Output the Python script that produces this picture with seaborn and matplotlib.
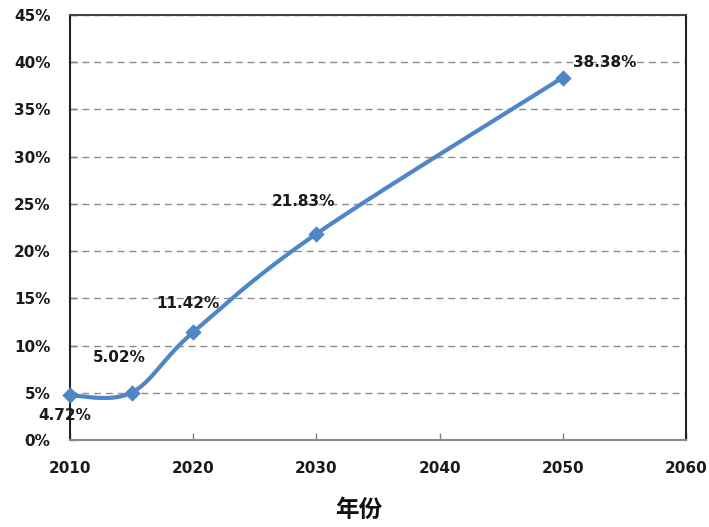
import numpy as np
import pandas as pd
import matplotlib
matplotlib.use("Agg")
import matplotlib.pyplot as plt
import seaborn as sns
from matplotlib.ticker import FuncFormatter, MultipleLocator

years = [2010, 2015, 2020, 2030, 2050]
shares = [4.72, 5.02, 11.42, 21.83, 38.38]
value_labels = ["4.72%", "5.02%", "11.42%", "21.83%", "38.38%"]
label_offsets = [(-5, -20), (-12, 35), (-5, 29), (-13, 32), (42, 15)]

sns.set_style("ticks")
plt.rcParams["font.family"] = ["DejaVu Sans", "Noto Sans CJK SC"]

line_color = "#4F86C6"


def smooth_curve(xs, ys, n=60):
    """Bezier smoothing through every point (Catmull-Rom style control points)."""
    pts = np.column_stack([xs, ys]).astype(float)
    ext = np.vstack([pts[0], pts, pts[-1]])
    out = []
    t = np.linspace(0, 1, n)[:, None]
    for i in range(len(pts) - 1):
        p0, p1, p2, p3 = ext[i], ext[i + 1], ext[i + 2], ext[i + 3]
        b1 = p1 + (p2 - p0) / 6.0
        b2 = p2 - (p3 - p1) / 6.0
        seg = ((1 - t) ** 3) * p1 + 3 * ((1 - t) ** 2) * t * b1 + 3 * (1 - t) * t ** 2 * b2 + t ** 3 * p2
        out.append(seg if i == 0 else seg[1:])
    curve = np.vstack(out)
    return curve[:, 0], curve[:, 1]


cx, cy = smooth_curve(years, shares)
curve_df = pd.DataFrame({"year": cx, "share": cy})
point_df = pd.DataFrame({"year": years, "share": shares})

fig = plt.figure(figsize=(7.09, 5.27), dpi=100)
ax = fig.add_axes([70 / 709, 1 - 440 / 527, 616 / 709, 425 / 527])

sns.lineplot(data=curve_df, x="year", y="share", sort=False, color=line_color,
             linewidth=3.0, ax=ax, zorder=3, clip_on=False)
sns.scatterplot(data=point_df, x="year", y="share", marker="D", s=70,
                color=line_color, edgecolor=line_color, linewidth=0, ax=ax,
                zorder=4, clip_on=False)

for x, y, lab, (dx, dy) in zip(years, shares, value_labels, label_offsets):
    ax.annotate(lab, (x, y), xytext=(dx * 0.72, dy * 0.72), textcoords="offset points",
                ha="center", va="center", fontsize=11, fontweight="bold",
                color="#1a1a1a", zorder=5)

ax.set_xlim(2010, 2060)
ax.set_ylim(0, 45)
ax.xaxis.set_major_locator(MultipleLocator(10))
ax.yaxis.set_major_locator(MultipleLocator(5))
ax.yaxis.set_major_formatter(FuncFormatter(lambda v, p: f"{v:.0f}%"))

ax.grid(axis="y", linestyle=(0, (5, 3.5)), color="#8c8c8c", linewidth=1.0, zorder=1)
ax.set_axisbelow(True)

ax.tick_params(axis="both", direction="in", length=5, width=1, color="#808080",
               labelsize=11, labelcolor="#1a1a1a")
ax.tick_params(axis="y", pad=14)
ax.tick_params(axis="x", pad=15)
for lab in ax.get_xticklabels() + ax.get_yticklabels():
    lab.set_fontweight("bold")

for side, col in [("left", "#222222"), ("right", "#222222"), ("top", "#444444"), ("bottom", "#8a8a8a")]:
    ax.spines[side].set_visible(True)
    ax.spines[side].set_color(col)
    ax.spines[side].set_linewidth(1.5)

ax.set_xlabel("")
ax.set_ylabel("")
fig.text(359 / 709, 1 - 510 / 527, "年份", ha="center", va="center",
         fontsize=17, fontweight="bold", family=["Noto Sans CJK SC", "DejaVu Sans"],
         color="#111111")

fig.savefig("out.png", dpi=100, facecolor="white")
